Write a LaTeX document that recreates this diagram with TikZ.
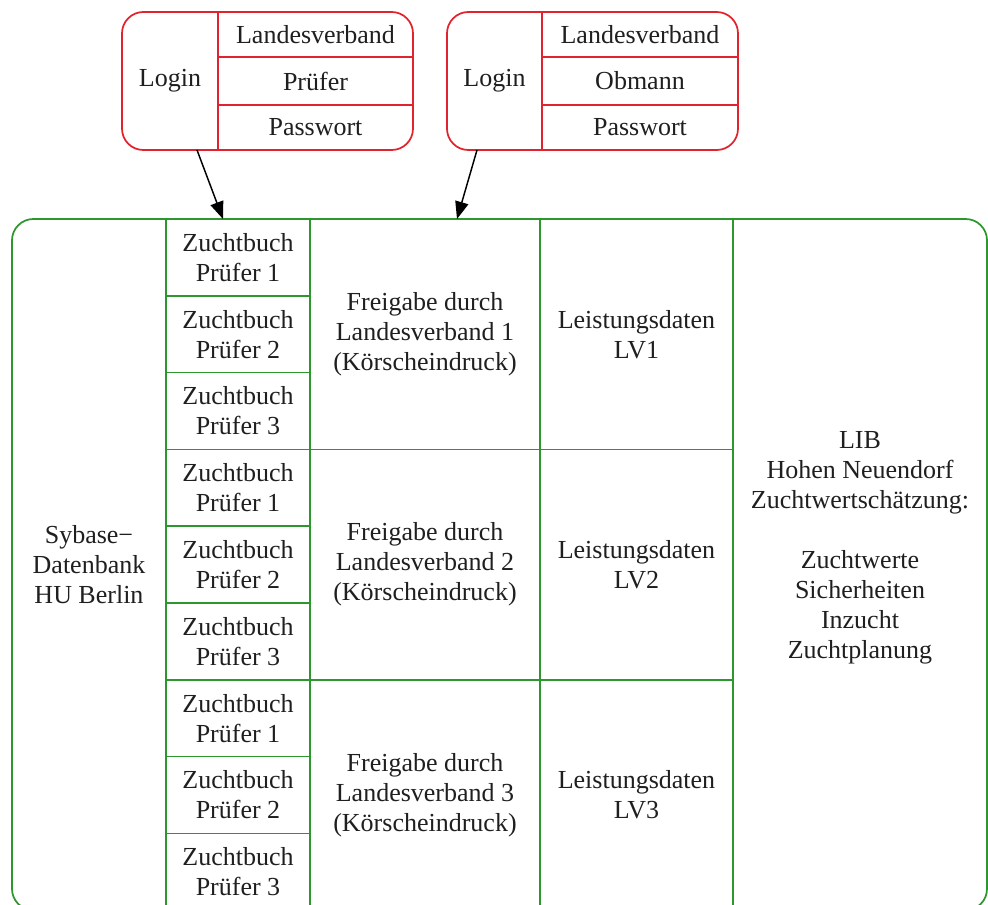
\documentclass[tikz,border=0pt]{standalone}
\usepackage{fontspec}
\setmainfont{Liberation Serif}
\usetikzlibrary{arrows.meta,fit}
\definecolor{gvred}{RGB}{225,35,45}
\definecolor{gvgreen}{RGB}{45,150,45}
\begin{document}
\begin{tikzpicture}[x=0.75pt,y=-0.75pt,
  redbox/.style={draw=gvred,line width=1.3pt,rounded corners=16pt,inner sep=0pt},
  greenbox/.style={draw=gvgreen,line width=1.3pt,rounded corners=16pt,inner sep=0pt},
  rline/.style={draw=gvred,line width=1.3pt},
  gline/.style={draw=gvgreen,line width=1.3pt},
  lbl/.style={font=\fontsize{19.5}{22.5}\selectfont,align=center,inner sep=0pt,text=black!88},
  conn/.style={-{Triangle[length=13pt,width=10pt]},line width=1.1pt,draw=black}]
\useasboundingbox (0,0) rectangle (988,904);

% --- Login box 1 (Pruefer)
\node[fit={(122,12) (413,150)}, redbox] (lp) {};
\draw[rline] (218,12) -- (218,150);
\draw[rline] (218,57) -- (413,57);
\draw[rline] (218,105) -- (413,105);
\node[lbl] (lpLogin) at (170,81) {Login};
\node[lbl] (lpLV) at (315.5,34.5) {Landesverband};
\node[lbl] (lpPr) at (315.5,81) {Prüfer};
\node[lbl] (lpPw) at (315.5,127.5) {Passwort};

% --- Login box 2 (Obmann)
\node[fit={(447,12) (738,150)}, redbox] (lo) {};
\draw[rline] (542,12) -- (542,150);
\draw[rline] (542,57) -- (738,57);
\draw[rline] (542,105) -- (738,105);
\node[lbl] (loLogin) at (494.5,81) {Login};
\node[lbl] (loLV) at (640,34.5) {Landesverband};
\node[lbl] (loOb) at (640,81) {Obmann};
\node[lbl] (loPw) at (640,127.5) {Passwort};

% --- main record
\node[fit={(12,219) (987,910.2)}, greenbox] (db) {};
\foreach \x in {166,310,540,733} \draw[gline] (\x,219) -- (\x,910.2);
\foreach \k in {1,2,4,5,7,8} \draw[gline] (166,219+76.8*\k) -- (310,219+76.8*\k);
\foreach \k in {3,6} \draw[gline] (166,219+76.8*\k) -- (733,219+76.8*\k);

\node[lbl] (syb) at (89,564.6) {Sybase−\\Datenbank\\HU Berlin};

\foreach \g in {0,1,2} {
  \foreach \p in {1,2,3} {
    \node[lbl] (zb\g\p) at (238,{219+76.8*(3*\g+\p-0.5)}) {Zuchtbuch\\Prüfer \p};
  }
}
\foreach \g/\n in {0/1,1/2,2/3} {
  \node[lbl] (fg\n) at (425,{219+230.4*(\g+0.5)}) {Freigabe durch\\Landesverband \n\\(Körscheindruck)};
  \node[lbl] (ld\n) at (636.5,{219+230.4*(\g+0.5)}) {Leistungsdaten\\LV\n};
}

\node[lbl] (lib) at (860,548) {LIB\\Hohen Neuendorf\\Zuchtwertschätzung:\\[22.5pt]Zuchtwerte\\Sicherheiten\\Inzucht\\Zuchtplanung};

% --- connectors
\coordinate (a1s) at (197,150);
\coordinate (a1e) at (223,219);
\coordinate (a2s) at (477,150);
\coordinate (a2e) at (457,219);
\draw[conn] (a1s) -- (a1e);
\draw[conn] (a2s) -- (a2e);
\end{tikzpicture}
\end{document}
